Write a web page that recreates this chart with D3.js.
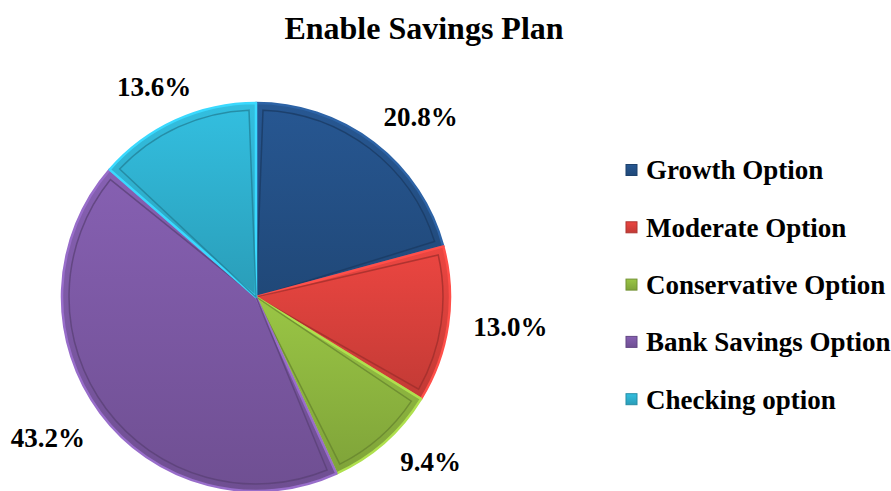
<!DOCTYPE html>
<html><head><meta charset="utf-8">
<script src="https://cdn.jsdelivr.net/npm/d3@7"></script>
<style>html,body{margin:0;padding:0;background:#fff;}</style>
</head><body>
<svg id="chart" width="891" height="491"></svg>
<script>
const categories = ["Growth Option","Moderate Option","Conservative Option","Bank Savings Option","Checking option"];
const values = [20.8, 13.0, 9.4, 43.2, 13.6];
const labels = ["20.8%","13.0%","9.4%","43.2%","13.6%"];
const colors = ["#245086","#D8403B","#8DB53F","#7B58A3","#2FAFCD"];
const title = "Enable Savings Plan";

// layout-only nudges for data labels (px)
const labelNudge = [[15,15],[11,-6],[12,-20],[-11,-7],[0,13]];

const svg = d3.select("#chart");
const cx = 256, cy = 297, R = 194;
const font = "'Liberation Serif','Times New Roman',serif";

const defs = svg.append("defs");
colors.forEach((c, i) => {
  const g = defs.append("linearGradient").attr("id", "g" + i)
    .attr("x1", 0).attr("y1", 0).attr("x2", 0).attr("y2", 1);
  g.append("stop").attr("offset", "0%").attr("stop-color", d3.color(c).brighter(0.25));
  g.append("stop").attr("offset", "100%").attr("stop-color", d3.color(c).darker(0.3));
});

svg.append("text").attr("x", 424).attr("y", 39).attr("text-anchor", "middle")
  .style("font-family", font).style("font-weight", "bold").style("font-size", "32px")
  .text(title);

const pie = d3.pie().sort(null).value(d => d);
const arcs = pie(values);
const arcOuter = d3.arc().innerRadius(0).outerRadius(R);
const inset = 7;
const arcInner = d3.arc().innerRadius(0).outerRadius(R - inset)
  .padRadius(R - inset).padAngle(2 * inset / (R - inset));
const arcLabel = d3.arc().innerRadius(246).outerRadius(246);

const g = svg.append("g").attr("transform", `translate(${cx},${cy})`);
const slices = g.selectAll("g.slice").data(arcs).join("g").attr("class", "slice");
slices.append("path").attr("d", arcOuter)
  .attr("fill", (d, i) => `url(#g${i})`)
  .attr("stroke", (d, i) => d3.color(colors[i]).brighter(0.6))
  .attr("stroke-width", 2.5).attr("stroke-linejoin", "round");
slices.append("path").attr("d", arcInner)
  .attr("fill", "none")
  .attr("stroke", (d, i) => d3.color(colors[i]).darker(0.9))
  .attr("stroke-opacity", 0.75)
  .attr("stroke-width", 1.5);

g.selectAll("text.lbl").data(arcs).join("text").attr("class", "lbl")
  .attr("transform", (d, i) => {
    const [x, y] = arcLabel.centroid(d);
    return `translate(${x + labelNudge[i][0]},${y + labelNudge[i][1]})`;
  })
  .attr("text-anchor", "middle").attr("dy", "0.35em")
  .style("font-family", font).style("font-weight", "bold").style("font-size", "27px")
  .text((d, i) => labels[i]);

const legend = svg.append("g").attr("transform", "translate(626,170)");
const rows = legend.selectAll("g").data(categories).join("g")
  .attr("transform", (d, i) => `translate(0,${i * 57.3})`);
rows.append("rect").attr("x", 0).attr("y", -5.5).attr("width", 11).attr("height", 11)
  .attr("fill", (d, i) => `url(#g${i})`)
  .attr("stroke", (d, i) => d3.color(colors[i]).darker(0.6)).attr("stroke-width", 1);
rows.append("text").attr("x", 20).attr("y", 0).attr("dy", "0.35em")
  .style("font-family", font).style("font-weight", "bold").style("font-size", "27px")
  .text(d => d);
</script>
</body></html>
